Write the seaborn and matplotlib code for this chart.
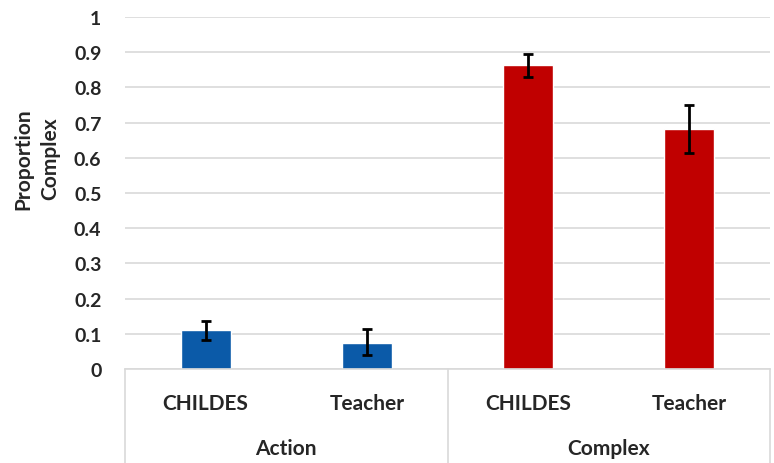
import numpy as np
import pandas as pd
import matplotlib
matplotlib.use("Agg")
import matplotlib.pyplot as plt
import seaborn as sns

groups = ["Action", "Action", "Complex", "Complex"]
sources = ["CHILDES", "Teacher", "CHILDES", "Teacher"]
proportion = [0.110, 0.074, 0.864, 0.682]
err_low = [0.082, 0.040, 0.830, 0.614]
err_high = [0.136, 0.114, 0.896, 0.751]
group_names = ["Action", "Complex"]
colors = {"Action": "#0b5aa8", "Complex": "#c00000"}

df = pd.DataFrame({
    "group": groups,
    "source": sources,
    "value": proportion,
})
df["cond"] = df["group"] + " " + df["source"]

sns.set_style("white")
plt.rcParams["font.family"] = ["Lato", "DejaVu Sans"]
plt.rcParams["font.weight"] = "bold"

fig = plt.figure(figsize=(7.74, 4.64), dpi=100)
ax = fig.add_axes([0.1615, 0.2026, 0.8335, 0.7584])

sns.barplot(data=df, x="cond", y="value", hue="group", palette=colors,
            dodge=False, width=0.31, legend=False, ax=ax, saturation=1)

x = np.arange(len(proportion))
val = np.array(proportion)
yerr = [val - np.array(err_low), np.array(err_high) - val]
ax.errorbar(x, val, yerr=yerr, fmt="none", ecolor="black",
            elinewidth=2, capsize=3.5, capthick=2, zorder=5)

ax.set_ylim(0, 1)
ax.set_xlim(-0.5, 3.5)
ax.set_yticks(np.arange(0, 1.01, 0.1))
ax.set_yticklabels(["0"] + [f"{v:.1f}" for v in np.arange(0.1, 0.95, 0.1)] + ["1"])
ax.yaxis.grid(True, color="#d9d9d9", linewidth=1.2)
ax.set_axisbelow(True)
for s in ["top", "right", "left"]:
    ax.spines[s].set_visible(False)
ax.spines["bottom"].set_color("#d9d9d9")
ax.spines["bottom"].set_linewidth(1.2)

ax.set_xticks(x)
ax.set_xticklabels(sources)
ax.tick_params(axis="x", length=0, pad=17, labelsize=15)
ax.tick_params(axis="y", length=0, pad=17, labelsize=14)
ax.set_xlabel("")
ax.set_ylabel("Proportion\nComplex", fontsize=15, fontweight="bold",
              linespacing=1.45, va="center")
ax.yaxis.set_label_coords(-0.137, 0.60)

trans = ax.get_xaxis_transform()
for xs in [-0.5, 1.5, 3.5]:
    ax.plot([xs, xs], [0, -0.27], color="#d9d9d9", linewidth=1.2,
            transform=trans, clip_on=False)
for i, g in enumerate(group_names):
    ax.text(2 * i + 0.5, -0.225, g, transform=trans, ha="center", va="center",
            fontsize=15, fontweight="bold")

fig.savefig("out.png", dpi=100)
